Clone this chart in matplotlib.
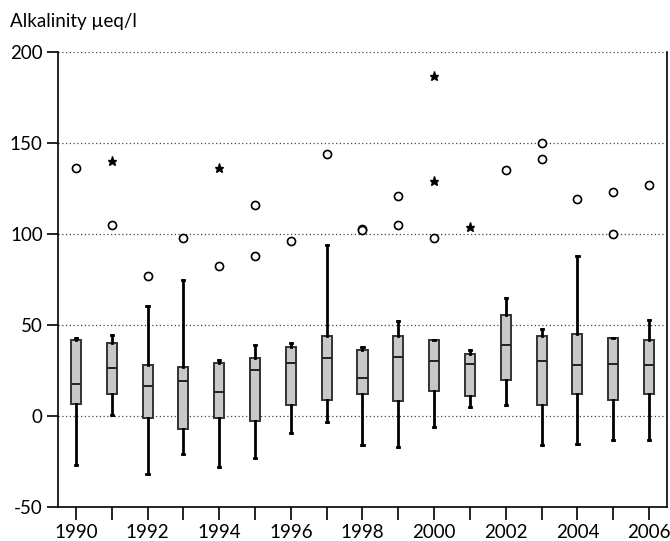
import numpy as np
import matplotlib
matplotlib.use("Agg")
import matplotlib.pyplot as plt

plt.rcParams['font.family'] = ['Lato', 'DejaVu Sans']
plt.rcParams['axes.unicode_minus'] = False

years = list(range(1990, 2007))
whis_lo = [-27, 0.5, -32, -21, -28, -23, -9.5, -3.5, -16, -17, -6, 5, 6, -16, -15.5, -13, -13]
q1 = [6.5, 12, -1, -7, -1, -3, 6, 9, 12, 8, 14, 11, 20, 6, 12, 9, 12]
med = [17.5, 26.5, 16.5, 19, 13, 25.5, 29, 32, 21, 32.5, 30, 28.5, 39, 30, 28, 28.5, 28]
q3 = [41.5, 40, 28, 27, 29, 32, 38, 44, 36, 44, 42, 34, 55.5, 44, 45, 43, 42]
whis_hi = [43, 44.5, 60.5, 75, 31, 39, 40, 94, 38, 52, 42, 36, 65, 48, 88, 43, 53]

# outliers (circles) and extremes (stars)
circ_x = [1990, 1991, 1992, 1993, 1994, 1995, 1995, 1996, 1997, 1998, 1998,
          1999, 1999, 2000, 2002, 2003, 2003, 2004, 2005, 2005, 2006]
circ_y = [136, 105, 77, 98, 82.5, 116, 88, 96, 144, 103, 102,
          121, 105, 98, 135, 150, 141, 119, 123, 100, 127]
star_x = [1991, 1994, 2000, 2000, 2001]
star_y = [140, 136, 187, 129, 104]

fig = plt.figure(figsize=(6.7, 5.41), dpi=100)
ax = fig.add_axes([58/670, 34/541, 609/670, 455/541])

stats = []
for i in range(len(years)):
    stats.append(dict(med=med[i], q1=q1[i], q3=q3[i],
                      whislo=whis_lo[i], whishi=whis_hi[i], fliers=[]))

ax.bxp(stats, positions=years, widths=0.28, patch_artist=True,
       showfliers=False,
       boxprops=dict(facecolor='#c8c8c8', edgecolor='#333333', linewidth=1.4),
       medianprops=dict(color='#222222', linewidth=1.4),
       whiskerprops=dict(color='black', linewidth=2.0),
       capprops=dict(color='black', linewidth=2.0),
       capwidths=0.06, zorder=3)

ax.plot(circ_x, circ_y, 'o', mfc='white', mec='black', ms=5.8, mew=1.2, zorder=4)
ax.plot(star_x, star_y, '*', color='black', ms=6.5, zorder=4)

ax.set_xlim(1989.5, 2006.5)
ax.set_ylim(-50, 200)
ax.set_yticks([-50, 0, 50, 100, 150, 200])
ax.set_xticks(years)
ax.set_xticklabels([str(y) if y % 2 == 0 else '' for y in years])
for y in [0, 50, 100, 150, 200]:
    ax.axhline(y, color='#444444', linestyle=(0, (1, 2)), linewidth=0.9, zorder=1)

ax.spines['top'].set_visible(False)
for s in ['left', 'bottom', 'right']:
    ax.spines[s].set_linewidth(1.2)
    ax.spines[s].set_color('black')
ax.tick_params(axis='y', direction='out', length=8, width=1.2, labelsize=13.5, pad=3)
ax.tick_params(axis='x', direction='out', length=9, width=1.2, labelsize=13.5, pad=3)

fig.text(10/670, 1 - 22/541, 'Alkalinity µeq/l', fontsize=13.5, ha='left', va='center')

fig.savefig('out.png', dpi=100)
